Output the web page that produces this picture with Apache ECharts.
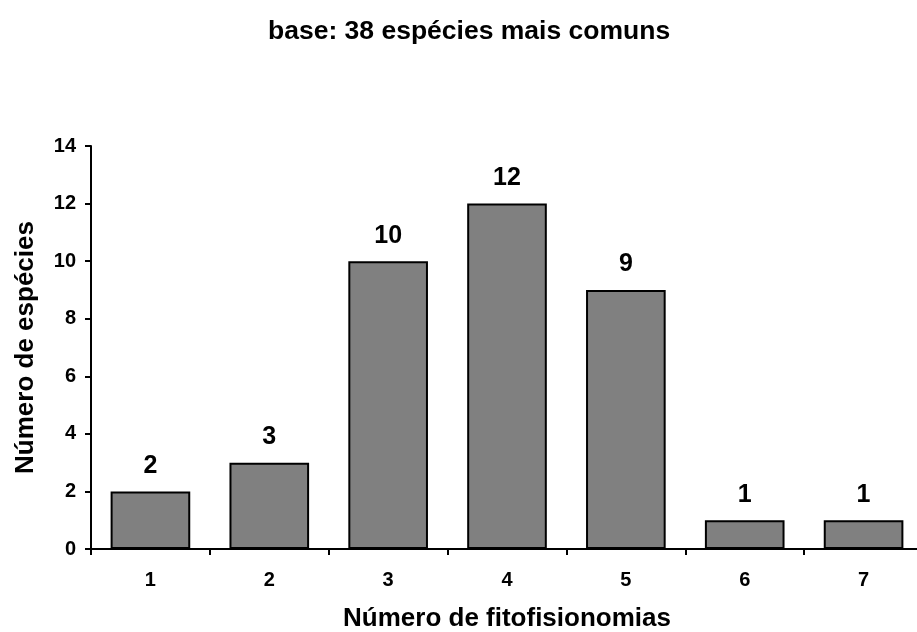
<!DOCTYPE html>
<html>
<head>
<meta charset="utf-8">
<script src="https://cdn.jsdelivr.net/npm/echarts@6/dist/echarts.min.js"></script>
<style>
  html, body { margin: 0; padding: 0; background: #fff; }
  #chart { width: 917px; height: 632px; }
</style>
</head>
<body>
<div id="chart"></div>
<script>
// Number of vegetation types each species occurs in (x) and species count (y)
const categories = ['1', '2', '3', '4', '5', '6', '7'];
const speciesCount = [2, 3, 10, 12, 9, 1, 1];
const yTicks = { min: 0, max: 14, interval: 2 };

const FONT = '"Liberation Sans", Arial, sans-serif';
const chart = echarts.init(document.getElementById('chart'));

chart.setOption({
  backgroundColor: '#ffffff',
  animation: false,
  title: {
    text: 'base: 38 espécies mais comuns',
    left: 263,
    top: 13,
    textStyle: { fontFamily: FONT, fontSize: 26.5, fontWeight: 'bold', color: '#000' }
  },
  grid: { left: 91, top: 146, width: 832, height: 403, outerBoundsMode: 'none', containLabel: false },
  xAxis: {
    type: 'category',
    data: categories,
    name: 'Número de fitofisionomias',
    nameLocation: 'middle',
    nameGap: 57,
    nameTextStyle: { fontFamily: FONT, fontSize: 26, fontWeight: 'bold', color: '#000' },
    axisLine: { lineStyle: { color: '#000', width: 2 } },
    axisTick: { show: true, length: 6, lineStyle: { color: '#000', width: 2 } },
    axisLabel: { fontFamily: FONT, fontSize: 20, fontWeight: 'bold', color: '#000', margin: 21 }
  },
  yAxis: {
    type: 'value',
    min: yTicks.min,
    max: yTicks.max,
    interval: yTicks.interval,
    name: 'Número de espécies',
    nameLocation: 'middle',
    nameGap: 52,
    nameTextStyle: { fontFamily: FONT, fontSize: 26, fontWeight: 'bold', color: '#000' },
    axisLine: { show: true, lineStyle: { color: '#000', width: 2 } },
    axisTick: { show: true, length: 6, lineStyle: { color: '#000', width: 2 } },
    axisLabel: { fontFamily: FONT, fontSize: 20, fontWeight: 'bold', color: '#000', margin: 15 },
    splitLine: { show: false }
  },
  series: [{
    type: 'bar',
    data: speciesCount,
    barWidth: '67%',
    itemStyle: { color: '#808080', borderColor: '#000', borderWidth: 2 },
    label: {
      show: true,
      position: 'top',
      distance: 13,
      fontFamily: FONT,
      fontSize: 25,
      fontWeight: 'bold',
      color: '#000'
    }
  }]
});
</script>
</body>
</html>
